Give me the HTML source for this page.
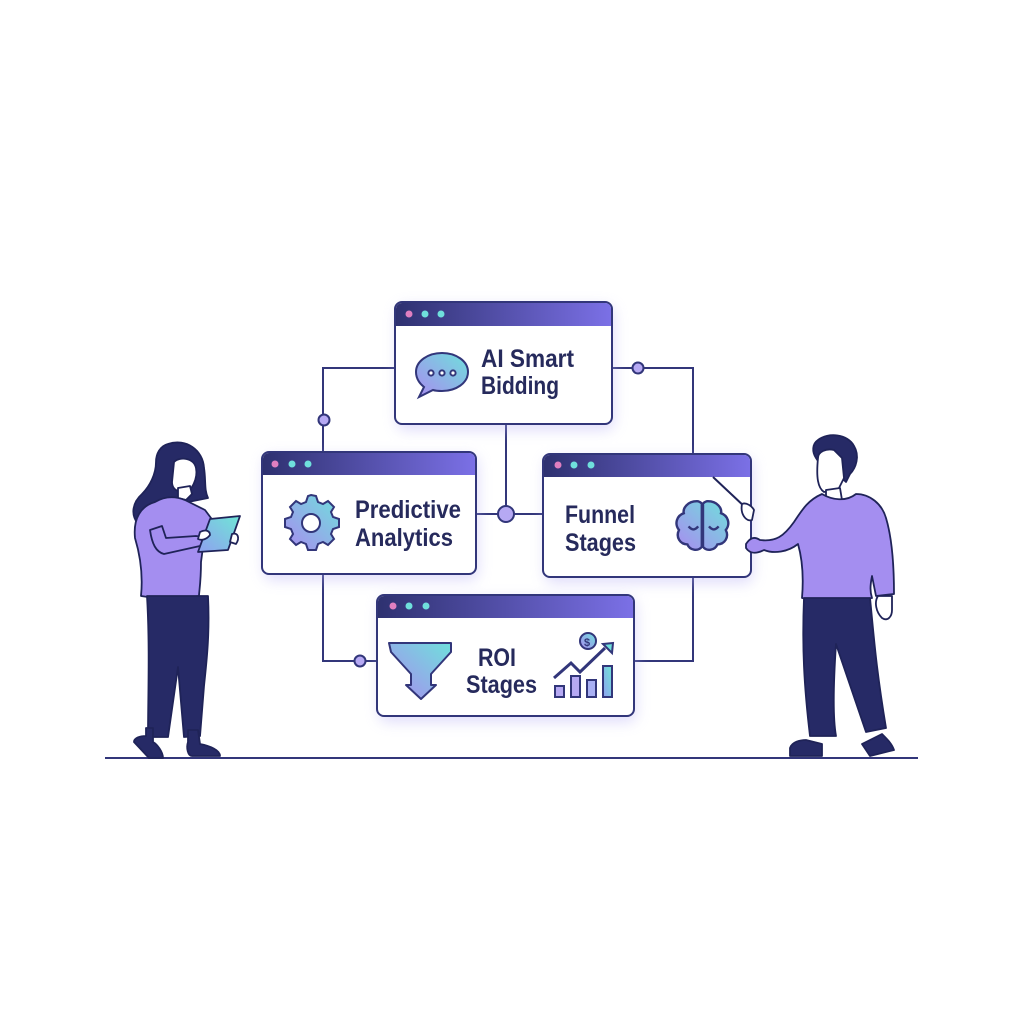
<!DOCTYPE html>
<html><head><meta charset="utf-8"><style>
html,body{margin:0;padding:0;background:#fff;}
svg{display:block}
text{font-family:"Liberation Sans",sans-serif;font-weight:bold;fill:#262a5c;}
</style></head><body>
<svg width="1024" height="1024" viewBox="0 0 1024 1024" xmlns="http://www.w3.org/2000/svg">
<defs>
<linearGradient id="hd" x1="0" x2="1"><stop offset="0" stop-color="#2e3170"/><stop offset="1" stop-color="#7b70e6"/></linearGradient>
<linearGradient id="ic" x1="0" y1="1" x2="1" y2="0"><stop offset="0" stop-color="#a98bf0"/><stop offset="1" stop-color="#6fe0dc"/></linearGradient>
<linearGradient id="tab" x1="0" y1="1" x2="1" y2="0"><stop offset="0" stop-color="#8fa0f0"/><stop offset="1" stop-color="#6fe6d6"/></linearGradient>
<filter id="sh" x="-20%" y="-20%" width="140%" height="140%"><feGaussianBlur stdDeviation="7"/></filter>
</defs>
<rect width="1024" height="1024" fill="#fff"/>
<g stroke="#32367a" stroke-width="2" fill="none">
<path d="M395 368H323V452"/><path d="M612 368H693V454"/>
<path d="M506 424V514M476 514H543"/>
<path d="M323 574V661H377"/><path d="M693 577V661H634"/>
</g>
<g fill="#b6a9f3" stroke="#32367a" stroke-width="2">
<circle cx="324" cy="420" r="5.5"/><circle cx="638" cy="368" r="5.5"/>
<circle cx="506" cy="514" r="8"/><circle cx="360" cy="661" r="5.5"/>
</g>
<g fill="#b9b2f5" opacity="0.45" filter="url(#sh)">
<rect x="397" y="306" width="217" height="124" rx="8"/><rect x="264" y="456" width="214" height="124" rx="8"/>
<rect x="545" y="458" width="208" height="125" rx="8"/><rect x="379" y="599" width="257" height="123" rx="8"/>
</g>
<g stroke="#32367a" stroke-width="2">
<g><rect x="395" y="302" width="217" height="122" rx="7" fill="#fff"/><path d="M396 326V309a6 6 0 0 1 6-6H605a6 6 0 0 1 6 6V326Z" fill="url(#hd)" stroke="none"/></g>
<g><rect x="262" y="452" width="214" height="122" rx="7" fill="#fff"/><path d="M263 475V459a6 6 0 0 1 6-6H469a6 6 0 0 1 6 6V475Z" fill="url(#hd)" stroke="none"/></g>
<g><rect x="543" y="454" width="208" height="123" rx="7" fill="#fff"/><path d="M544 477V461a6 6 0 0 1 6-6H744a6 6 0 0 1 6 6V477Z" fill="url(#hd)" stroke="none"/></g>
<g><rect x="377" y="595" width="257" height="121" rx="7" fill="#fff"/><path d="M378 618V602a6 6 0 0 1 6-6H627a6 6 0 0 1 6 6V618Z" fill="url(#hd)" stroke="none"/></g>
</g>
<g>
<circle cx="409" cy="314" r="3.5" fill="#e07fc0"/><circle cx="425" cy="314" r="3.5" fill="#6fe0dc"/><circle cx="441" cy="314" r="3.5" fill="#6fe0dc"/>
<circle cx="275" cy="464" r="3.5" fill="#e07fc0"/><circle cx="292" cy="464" r="3.5" fill="#6fe0dc"/><circle cx="308" cy="464" r="3.5" fill="#6fe0dc"/>
<circle cx="558" cy="465" r="3.5" fill="#e07fc0"/><circle cx="574" cy="465" r="3.5" fill="#6fe0dc"/><circle cx="591" cy="465" r="3.5" fill="#6fe0dc"/>
<circle cx="393" cy="606" r="3.5" fill="#e07fc0"/><circle cx="409" cy="606" r="3.5" fill="#6fe0dc"/><circle cx="426" cy="606" r="3.5" fill="#6fe0dc"/>
</g>
<g lengthAdjust="spacingAndGlyphs">
<text x="481" y="367" font-size="25" textLength="93" lengthAdjust="spacingAndGlyphs">AI Smart</text><text x="481" y="394" font-size="25" textLength="78" lengthAdjust="spacingAndGlyphs">Bidding</text>
<text x="355" y="518" font-size="25" textLength="106" lengthAdjust="spacingAndGlyphs">Predictive</text><text x="355" y="546" font-size="25" textLength="98" lengthAdjust="spacingAndGlyphs">Analytics</text>
<text x="565" y="523" font-size="25" textLength="70" lengthAdjust="spacingAndGlyphs">Funnel</text><text x="565" y="551" font-size="25" textLength="71" lengthAdjust="spacingAndGlyphs">Stages</text>
<text x="478" y="666" font-size="25" textLength="38" lengthAdjust="spacingAndGlyphs">ROI</text><text x="466" y="693" font-size="25" textLength="71" lengthAdjust="spacingAndGlyphs">Stages</text>
</g>
<g stroke="#32367a" stroke-width="2">
<path d="M442 353c14 0 26 8 26 19s-12 19-26 19c-3 0-6 0-9-1l-14 7 5-10c-5-4-8-9-8-15 0-11 12-19 26-19z" fill="url(#ic)"/>
<circle cx="431" cy="373" r="2.6" fill="#fff"/><circle cx="442" cy="373" r="2.6" fill="#fff"/><circle cx="453" cy="373" r="2.6" fill="#fff"/>
<path d="M311 495l5 1 2 6 5 2 5-3 6 6-3 5 2 5 6 2v8l-6 2-2 5 3 5-6 6-5-3-5 2-2 6h-8l-2-6-5-2-5 3-6-6 3-5-2-5-6-2v-8l6-2 2-5-3-5 6-6 5 3 5-2 2-6z" fill="url(#ic)"/>
<circle cx="311" cy="523" r="9" fill="#fff"/>
<g transform="translate(697 524) scale(1.2) translate(-697 -519)">
<path d="M697 500c-8 0-12 6-11 10-6 2-8 9-4 14-3 6 1 12 7 12 2 5 9 6 12 2 V502c-1-1-2-2-4-2zM706 500c8 0 12 6 11 10 6 2 8 9 4 14 3 6-1 12-7 12-2 5-9 6-12 2V502c1-1 2-2 4-2z" fill="url(#ic)"/>
<path d="M690 521q4 5 8 0M707 521q4 5 8 0" fill="none"/>
</g>
<path d="M389 643h62v9l-20 22v11h5l-15 14-15-14h5v-11l-20-22z" fill="url(#ic)" stroke-linejoin="round"/>
<rect x="555" y="686" width="9" height="11" fill="#b6a9f3"/><rect x="571" y="676" width="9" height="21" fill="#b6a9f3"/><rect x="587" y="680" width="9" height="17" fill="#a9b0f3"/><rect x="603" y="666" width="9" height="31" fill="url(#tab)"/>
<path d="M554 678l17-15 9 9 25-24" fill="none" stroke-width="3"/><path d="M603 644l10-1-1 10z" fill="#6fe0dc"/>
<circle cx="588" cy="641" r="8" fill="url(#ic)"/>
</g>
<text x="584" y="646" font-size="11" style="fill:#32367a">$</text>
<line x1="105" y1="758" x2="918" y2="758" stroke="#32367a" stroke-width="2"/>
<g stroke="#1f2358" stroke-width="1.8" stroke-linejoin="round">
<path d="M168 444c18-6 35 6 36 24 2 12 0 22 4 30l-40 8c-10 8-25 14-30 18-8-10-5-22 4-30 8-8 14-20 14-32 0-8 4-16 12-18z" fill="#262a66"/>
<path d="M174 462c6-6 20-4 22 6 2 10-4 24-12 24-8 0-12-4-12-10z" fill="#fff"/>
<path d="M178 488v10l8 2 6-6-2-8z" fill="#fff"/>
<path d="M155 502c10-6 20-6 30-2l20 10 12 16c-2 8-8 10-12 6l-4 30c0 20-2 30-2 34-20 3-40 3-58 0 2-20 0-38-6-58-2-20 6-32 20-36z" fill="#a48ef0"/>
<path d="M150 530c2 14 6 22 14 24l36-8c4-6 2-10-4-10l-30 2-4-12z" fill="#a48ef0"/>
<path d="M147 596h61c2 40-2 70-4 90l-4 50-16 1-6-70-10 70h-20c0-40 2-90-1-141z" fill="#262a66"/>
<path d="M146 728v8c-6 0-12 2-12 6l15 16h14c0-6-6-14-10-16l0-14zM188 730l0 12c-2 6 0 14 4 14h28c0-6-10-10-20-12l-2-14z" fill="#262a66"/>
<path d="M210 519l30-3-12 34-30 2z" fill="url(#tab)"/>
<path d="M200 532c6-3 10-1 10 3-3 4-8 6-12 4zM232 534c6-2 8 4 4 10l-6-2z" fill="#fff"/>
</g>
<g stroke="#1f2358" stroke-width="1.8" stroke-linejoin="round">
<path d="M818 440c10-8 30-6 36 6 6 10 2 22-4 28l-4 8c-6-6-12-10-22-12l-8-12c-4-6-4-14 2-18z" fill="#262a66"/>
<path d="M818 458c0-6 8-10 16-8l8 8 2 20-6 12-14 2c-6-4-8-14-6-34z" fill="#fff"/>
<path d="M826 490l0 10 16 0-2-12z" fill="#fff"/>
<path d="M822 494c10 6 24 8 34 0 14 0 26 10 30 24 6 20 8 50 8 76l-18 2-4-20c-2 10-2 16 0 22-26 4-50 4-70 0 2-24 0-40-4-54-10 8-24 10-34 6-8 4-14 4-18-2l0-4c4-6 8-8 14-4 16 2 24-4 34-18 8-12 14-22 28-28z" fill="#a48ef0"/>
<path d="M804 598h66c4 40 6 70 16 130l-20 4-30-88c-2 30-4 70 0 92h-26c-6-50-8-90-6-138z" fill="#262a66"/>
<path d="M790 748c2-6 10-8 16-8l16 4v12h-32zM862 744l20-10c6 6 10 10 12 16l-24 6z" fill="#262a66"/>
<path d="M878 596c-4 6-2 16 4 22 6 4 10-2 10-8l0-14z" fill="#fff"/>
<line x1="713" y1="477" x2="746" y2="508" stroke-width="2"/>
<path d="M742 504c4-2 10 2 12 6l-2 10c-6 2-12-6-10-16z" fill="#fff"/>
</g>
</svg>
</body></html>
